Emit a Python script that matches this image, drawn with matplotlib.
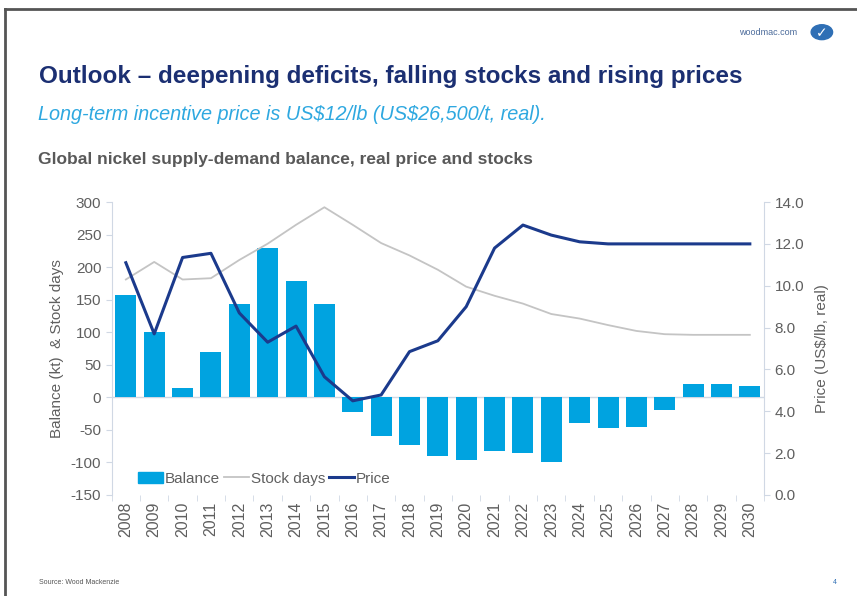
import numpy as np
import matplotlib.pyplot as plt
from matplotlib.lines import Line2D
from matplotlib.patches import Patch, Circle

plt.rcParams['font.family'] = ['Liberation Sans', 'DejaVu Sans']
plt.rcParams['axes.unicode_minus'] = False

years = [str(y) for y in range(2008, 2031)]
balance = [157, 100, 15, 70, 143, 230, 178, 143, -23, -60, -73, -90, -97, -82,
           -86, -99, -39, -47, -46, -20, 20, 20, 17]
stock_days = [181, 208, 181, 183, 211, 236, 265, 292, 265, 237, 218, 196, 170,
              156, 144, 128, 121, 111, 102, 97, 96, 96, 96]
price = [11.1, 7.7, 11.35, 11.55, 8.7, 7.3, 8.07, 5.65, 4.5, 4.78, 6.85, 7.37,
         9.0, 11.8, 12.9, 12.42, 12.1, 12.0, 12.0, 12.0, 12.0, 12.0, 12.0]

bar_col = '#00A3E0'
price_col = '#1B3A8C'
stock_col = '#C4C4C4'
txt_col = '#5F5F5F'
axis_col = '#D0D8E4'

fig = plt.figure(figsize=(8.57, 5.96), dpi=100)
fig.patch.set_facecolor('white')

# slide frame
fig.add_artist(Line2D([0.006, 1.0], [0.985, 0.985], color='#555555', lw=2))
fig.add_artist(Line2D([0.006, 0.006], [0.0, 0.985], color='#555555', lw=2))

fig.text(0.045, 0.872, 'Outlook \u2013 deepening deficits, falling stocks and rising prices',
         fontsize=17.5, fontweight='bold', color='#1B2F72', va='center')
fig.text(0.044, 0.808, r'Long-term incentive price is US\$12/lb (US\$26,500/t, real).',
         fontsize=14.3, style='italic', color='#2EA8E0', va='center')
fig.text(0.044, 0.733, 'Global nickel supply-demand balance, real price and stocks',
         fontsize=12.5, fontweight='bold', color='#595959', va='center')
fig.text(0.862, 0.946, 'woodmac.com', fontsize=6.5, color='#4A6A9A', va='center')
fig.add_artist(Circle((0.959, 0.946), 0.0125, transform=fig.transFigure,
                      color='#2F6FB5'))
fig.text(0.959, 0.944, '\u2713', fontsize=10, color='white', ha='center',
         va='center', fontweight='bold', family='DejaVu Sans')
fig.text(0.045, 0.02, 'Source: Wood Mackenzie', fontsize=5, color='#555555')
fig.text(0.972, 0.02, '4', fontsize=5, color='#2F6FB5')

ax = fig.add_axes([0.1303, 0.1695, 0.7612, 0.4915])
x = np.arange(len(years))
ax.bar(x, balance, width=0.74, color=bar_col, zorder=2)
ax.plot(x, stock_days, color=stock_col, lw=1.3, zorder=3)
ax.set_ylim(-150, 300)
ax.set_xlim(-0.5, len(years) - 0.5)
ax.set_yticks(range(-150, 301, 50))
ax.set_xticks(x)
ax.set_xticklabels(years, rotation=90)
ax.set_xticks(np.arange(-0.5, len(years), 1), minor=True)
ax.tick_params(axis='x', which='major', length=0, pad=5, labelsize=11.5,
               labelcolor=txt_col)
ax.tick_params(axis='x', which='minor', length=4, color=axis_col)
ax.tick_params(axis='y', length=4, color=axis_col, labelsize=11,
               labelcolor=txt_col)
ax.axhline(0, color=axis_col, lw=1, zorder=1)
for s in ['top', 'right', 'bottom']:
    ax.spines[s].set_visible(False)
ax.spines['left'].set_color(axis_col)
ax.set_ylabel('Balance (kt)  & Stock days', fontsize=11, color=txt_col,
              labelpad=5)
ax.xaxis.set_ticks_position('bottom')

ax2 = ax.twinx()
ax2.plot(x, price, color=price_col, lw=2.2, zorder=4)
ax2.set_ylim(0, 14)
ax2.set_yticks(np.arange(0, 14.1, 2))
ax2.set_yticklabels([f'{v:.1f}' for v in np.arange(0, 14.1, 2)])
ax2.tick_params(axis='y', length=4, color=axis_col, labelsize=11,
                labelcolor=txt_col)
for s in ['top', 'left', 'bottom']:
    ax2.spines[s].set_visible(False)
ax2.spines['right'].set_color(axis_col)
ax2.set_ylabel(r'Price (US\$/lb, real)', fontsize=11, color=txt_col,
               labelpad=8)

handles = [Patch(color=bar_col),
           Line2D([], [], color=stock_col, lw=1.3),
           Line2D([], [], color=price_col, lw=2.2)]
ax2.legend(handles, ['Balance', 'Stock days', 'Price'], loc='lower left',
           bbox_to_anchor=(0.02, -0.015), ncol=3, frameon=False, fontsize=11,
           labelcolor=txt_col, handlelength=1.6, handletextpad=0.15,
           columnspacing=0.25)

fig.savefig('out.png', dpi=100)
